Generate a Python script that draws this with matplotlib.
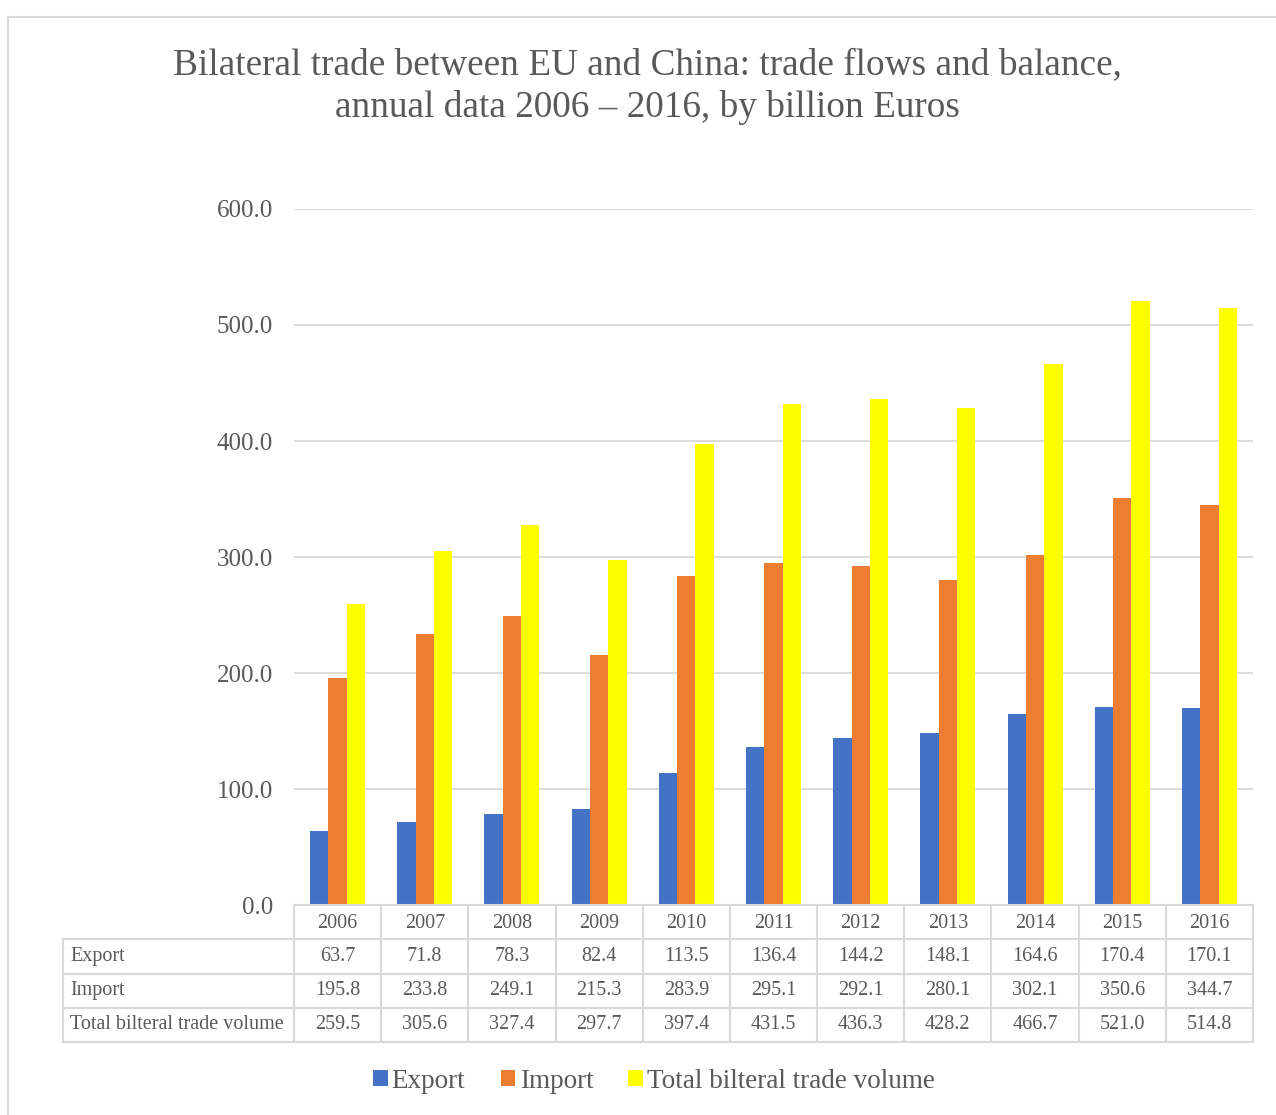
import numpy as np
import matplotlib.pyplot as plt
from matplotlib.patches import Rectangle

years = ['2006', '2007', '2008', '2009', '2010', '2011',
         '2012', '2013', '2014', '2015', '2016']
export = [63.7, 71.8, 78.3, 82.4, 113.5, 136.4, 144.2, 148.1, 164.6, 170.4, 170.1]
imports = [195.8, 233.8, 249.1, 215.3, 283.9, 295.1, 292.1, 280.1, 302.1, 350.6, 344.7]
total = [259.5, 305.6, 327.4, 297.7, 397.4, 431.5, 436.3, 428.2, 466.7, 521.0, 514.8]
series_names = ['Export', 'Import', 'Total bilteral trade volume']
colors = ['#4472C4', '#ED7D31', '#FFFF00']

TXT = '#595959'
GRID = '#d9d9d9'
W, H = 1276, 1115

plt.rcParams['font.family'] = ['Liberation Serif', 'DejaVu Serif']

fig = plt.figure(figsize=(W / 100, H / 100), dpi=100)


def box(x0, y0, x1, y1):
    # pixel box (top-left origin) -> figure fraction rect
    return [x0 / W, 1 - y1 / H, (x1 - x0) / W, (y1 - y0) / H]


# outer chart border
fig.add_artist(Rectangle((7.5 / W, -0.1), 1.2, 1 - 16.5 / H + 0.1,
                         transform=fig.transFigure, fill=False,
                         edgecolor=GRID, lw=1.5))

fig.text(647 / W, 1 - 86 / H,
         'Bilateral trade between EU and China: trade flows and balance,\n'
         'annual data 2006 \u2013 2016, by billion Euros',
         ha='center', va='center', fontsize=26.8, color=TXT, linespacing=1.28)

ax = fig.add_axes(box(294, 209, 1253, 905))
x = np.arange(len(years))
bw = 0.21
data = [export, imports, total]
for i, (vals, c, name) in enumerate(zip(data, colors, series_names)):
    ax.bar(x + (i - 1) * bw, vals, width=bw, color=c, label=name, zorder=2)

ax.set_xlim(-0.5, len(years) - 0.5)
ax.set_ylim(0, 600)
ax.set_yticks(np.arange(0, 601, 100))
ax.set_yticklabels([f'{v:.1f}' for v in np.arange(0, 601, 100)])
ax.tick_params(axis='y', length=0, pad=15, labelsize=18, labelcolor=TXT)
ax.set_xticks([])
ax.grid(axis='y', color=GRID, lw=1.3, zorder=0)
for s in ax.spines.values():
    s.set_visible(False)

# data table under the bars
tab = fig.add_axes(box(63, 905, 1253, 1042))
lab_w = (294 - 63) / ((1253 - 294) / len(years))
tab.set_xlim(-0.5 - lab_w, len(years) - 0.5)
tab.set_ylim(4, 0)
tab.axis('off')
lk = dict(color=GRID, lw=1.5, clip_on=False)
tab.plot([-0.5, len(years) - 0.5], [0, 0], **lk)
for r in range(1, 5):
    tab.plot([-0.5 - lab_w, len(years) - 0.5], [r, r], **lk)
tab.plot([-0.5 - lab_w] * 2, [1, 4], **lk)
for k in range(len(years) + 1):
    tab.plot([k - 0.5] * 2, [0, 4], **lk)

for k, yr in enumerate(years):
    tab.text(k, 0.55, yr, ha='center', va='center', fontsize=14.5, color=TXT)
for r, (name, vals) in enumerate(zip(series_names, data), start=1):
    tab.text(-0.5 - lab_w + 0.08, r + 0.5, name, ha='left', va='center',
             fontsize=14.5, color=TXT)
    for k, v in enumerate(vals):
        tab.text(k, r + 0.5, f'{v:.1f}', ha='center', va='center',
                 fontsize=14.5, color=TXT)

leg = fig.legend(*ax.get_legend_handles_labels(), loc='center',
                 bbox_to_anchor=(654 / W, 1 - 1081 / H), ncol=3, frameon=False,
                 fontsize=19.5, handlelength=0.55, handleheight=0.55,
                 handletextpad=0.15, columnspacing=1.3)
for t in leg.get_texts():
    t.set_color(TXT)

fig.savefig('out.png', dpi=100)
